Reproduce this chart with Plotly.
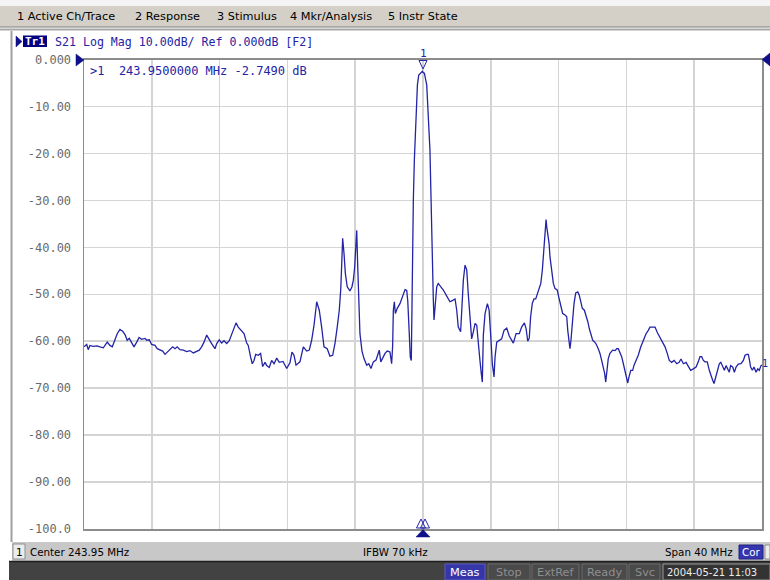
import plotly.graph_objects as go

# ---------------- data ----------------
freq_mhz = [
    223.95, 224.11, 224.20, 224.30, 224.48, 224.72, 224.89, 225.09, 225.32, 225.48,
    225.62, 225.78, 225.91, 226.07, 226.23, 226.37, 226.50, 226.62, 226.76, 226.90,
    227.06, 227.20, 227.35, 227.55, 227.65, 227.80, 227.94, 228.14, 228.27, 228.43,
    228.59, 228.73, 228.86, 229.02, 229.18, 229.32, 229.45, 229.61, 229.81, 230.01,
    230.20, 230.40, 230.60, 230.75, 230.89, 231.03, 231.19, 231.34, 231.48, 231.68,
    231.78, 231.93, 232.07, 232.21, 232.37, 232.52, 232.66, 232.82, 232.92, 233.05,
    233.21, 233.39, 233.55, 233.64, 233.78, 233.88, 233.98, 234.08, 234.23, 234.37,
    234.49, 234.63, 234.73, 234.88, 235.02, 235.16, 235.32, 235.47, 235.69, 235.91,
    236.10, 236.22, 236.34, 236.46, 236.69, 236.89, 237.09, 237.24, 237.38, 237.52,
    237.68, 237.83, 237.97, 238.11, 238.30, 238.46, 238.62, 238.76, 238.89, 239.01,
    239.10, 239.15, 239.21, 239.29, 239.37, 239.48, 239.64, 239.76, 239.84, 239.92,
    239.98, 240.04, 240.10, 240.16, 240.23, 240.35, 240.47, 240.63, 240.75, 240.88,
    241.02, 241.18, 241.30, 241.37, 241.46, 241.57, 241.71, 241.84, 242.00, 242.10,
    242.16, 242.20, 242.26, 242.32, 242.43, 242.59, 242.75, 242.89, 242.99, 243.05,
    243.14, 243.20, 243.26, 243.30, 243.34, 243.38, 243.44, 243.52, 243.62, 243.70,
    243.83, 243.91, 243.95, 244.03, 244.17, 244.26, 244.32, 244.36, 244.40, 244.45,
    244.50, 244.56, 244.60, 244.66, 244.76, 244.85, 244.99, 245.15, 245.35, 245.54,
    245.70, 245.84, 245.94, 246.03, 246.17, 246.23, 246.33, 246.43, 246.53, 246.62,
    246.72, 246.82, 246.92, 247.02, 247.12, 247.21, 247.31, 247.39, 247.45, 247.51,
    247.61, 247.75, 247.85, 247.95, 248.04, 248.14, 248.20, 248.30, 248.45, 248.59,
    248.73, 248.89, 249.04, 249.28, 249.44, 249.63, 249.77, 249.93, 250.03, 250.13,
    250.22, 250.30, 250.40, 250.50, 250.60, 250.69, 250.80, 250.90, 250.99, 251.05,
    251.11, 251.17, 251.21, 251.25, 251.31, 251.39, 251.44, 251.52, 251.64, 251.74,
    251.87, 251.96, 252.08, 252.19, 252.33, 252.43, 252.49, 252.57, 252.62, 252.68,
    252.76, 252.86, 252.96, 253.08, 253.17, 253.25, 253.35, 253.47, 253.57, 253.67,
    253.76, 253.86, 253.96, 254.05, 254.15, 254.29, 254.39, 254.49, 254.59, 254.67,
    254.73, 254.79, 254.88, 254.98, 255.14, 255.28, 255.38, 255.47, 255.57, 255.67,
    255.77, 255.87, 255.97, 256.03, 256.11, 256.21, 256.32, 256.40, 256.52, 256.65,
    256.80, 256.95, 257.11, 257.24, 257.34, 257.50, 257.64, 257.78, 257.93, 258.09,
    258.23, 258.36, 258.48, 258.62, 258.76, 258.92, 259.06, 259.17, 259.31, 259.47,
    259.60, 259.74, 259.90, 260.06, 260.19, 260.29, 260.39, 260.49, 260.59, 260.72,
    260.84, 260.94, 261.04, 261.12, 261.20, 261.31, 261.43, 261.52, 261.63, 261.73,
    261.83, 261.93, 262.02, 262.10, 262.22, 262.32, 262.42, 262.55, 262.71, 262.85,
    262.95, 263.05, 263.14, 263.20, 263.28, 263.38, 263.48, 263.60, 263.70, 263.79,
    263.89, 263.95,
]
s21_db = [
    -61.2, -60.7, -61.8, -60.9, -61.1, -61.0, -61.2, -61.4, -60.2, -60.9,
    -61.2, -59.5, -58.4, -57.5, -57.9, -58.6, -59.8, -59.4, -60.2, -61.2,
    -60.2, -59.2, -59.6, -59.4, -59.8, -59.7, -60.7, -60.9, -61.6, -61.9,
    -62.1, -62.8, -62.3, -61.6, -61.2, -61.6, -61.2, -61.8, -61.9, -62.2,
    -62.0, -62.5, -62.2, -61.9, -61.2, -60.2, -58.7, -59.8, -60.5, -61.6,
    -60.5, -59.7, -60.4, -59.9, -60.5, -59.9, -58.4, -57.0, -56.1, -57.0,
    -57.7, -58.4, -60.4, -60.9, -63.4, -64.8, -64.1, -62.8, -63.0, -62.6,
    -65.4, -64.5, -65.2, -65.6, -64.1, -64.8, -63.6, -64.5, -64.3, -65.8,
    -64.6, -62.3, -63.0, -65.1, -64.4, -61.2, -62.1, -61.9, -59.8, -56.6,
    -51.6, -53.4, -57.0, -61.2, -61.6, -63.2, -63.0, -60.4, -57.0, -53.4,
    -48.8, -44.2, -38.1, -41.3, -45.6, -48.4, -49.3, -48.4, -47.0, -44.2,
    -38.1, -36.4, -44.2, -53.4, -58.4, -62.1, -63.7, -65.1, -64.8, -65.8,
    -64.4, -64.0, -62.3, -61.9, -64.4, -63.7, -62.6, -62.1, -62.3, -64.8,
    -60.9, -53.4, -51.6, -54.1, -53.0, -52.0, -50.6, -49.0, -49.2, -51.4,
    -58.4, -63.4, -64.1, -51.4, -41.3, -30.0, -21.4, -14.0, -5.4, -3.3,
    -2.7, -2.5, -2.749, -2.9, -5.4, -10.8, -15.5, -19.3, -25.7, -35.0,
    -45.0, -51.3, -55.5, -52.7, -48.4, -47.7, -48.3, -49.1, -50.4, -51.6,
    -51.3, -51.0, -53.4, -57.0, -58.0, -54.1, -47.0, -43.8, -44.8, -49.9,
    -54.1, -59.5, -58.0, -56.2, -56.6, -59.5, -64.1, -66.9, -68.7, -58.7,
    -54.1, -52.0, -53.4, -59.1, -64.8, -67.6, -63.4, -60.2, -59.8, -59.5,
    -57.7, -57.2, -58.9, -60.4, -58.4, -58.4, -57.0, -56.1, -57.3, -60.0,
    -59.3, -54.8, -51.9, -51.0, -51.0, -49.9, -48.4, -47.7, -44.9, -42.0,
    -38.5, -36.4, -34.1, -35.6, -37.0, -39.2, -42.0, -44.9, -47.7, -48.8,
    -49.1, -50.6, -52.7, -54.1, -54.4, -54.8, -57.7, -60.5, -61.6, -59.8,
    -56.2, -52.0, -49.7, -49.5, -50.2, -51.6, -53.0, -53.4, -54.4, -55.8,
    -57.3, -58.7, -59.8, -60.1, -60.5, -61.6, -62.6, -64.1, -65.5, -66.9,
    -68.7, -66.9, -63.7, -62.6, -61.9, -62.0, -61.6, -61.6, -62.6, -63.3,
    -64.8, -66.2, -68.0, -68.9, -67.5, -66.2, -66.2, -65.1, -64.1, -63.0,
    -61.2, -59.8, -58.4, -57.7, -57.0, -57.0, -57.0, -58.2, -59.1, -60.2,
    -61.2, -62.6, -64.1, -64.5, -64.1, -64.8, -64.5, -63.8, -64.8, -64.5,
    -65.5, -66.2, -65.9, -65.5, -64.4, -63.3, -63.3, -64.1, -64.4, -64.4,
    -66.2, -67.5, -68.3, -69.0, -68.0, -66.6, -64.8, -64.5, -65.5, -66.2,
    -65.2, -65.9, -66.6, -65.2, -65.5, -66.6, -65.5, -64.9, -64.8, -64.1,
    -63.0, -62.8, -62.8, -63.8, -65.5, -66.2, -65.5, -66.6, -65.9, -66.2,
    -65.2, -65.1,
]

x_start_mhz = 223.95
x_stop_mhz = 263.95
x_div_mhz = 4.0
y_tick_vals = [0, -10, -20, -30, -40, -50, -60, -70, -80, -90, -100]
y_tick_text = ["0.000", "-10.00", "-20.00", "-30.00", "-40.00", "-50.00",
               "-60.00", "-70.00", "-80.00", "-90.00", "-100.0"]

menu_items = ["1 Active Ch/Trace", "2 Response", "3 Stimulus", "4 Mkr/Analysis", "5 Instr State"]
title_text = "S21 Log Mag 10.00dB/ Ref 0.000dB [F2]"
marker_text = ">1  243.9500000 MHz -2.7490 dB"
status_center = "Center 243.95 MHz"
status_ifbw = "IFBW 70 kHz"
status_span = "Span 40 MHz"
bottom_items = ["Meas", "Stop", "ExtRef", "Ready", "Svc"]
date_text = "2004-05-21 11:03"

# ---------------- layout helpers ----------------
W, H = 770, 580


def px(x):
    return x / W


def py(y):
    return 1 - y / H


shapes = []
annotations = []


def rect(x0, y0, x1, y1, fill, line=None, lw=0):
    shapes.append(dict(type="rect", xref="paper", yref="paper",
                       x0=px(x0), x1=px(x1), y0=py(y1), y1=py(y0),
                       fillcolor=fill,
                       line=dict(color=line or fill, width=lw)))


def hline(x0, x1, y, color, w=1):
    shapes.append(dict(type="line", xref="paper", yref="paper",
                       x0=px(x0), x1=px(x1), y0=py(y), y1=py(y),
                       line=dict(color=color, width=w)))


def vline(x, y0, y1, color, w=1):
    shapes.append(dict(type="line", xref="paper", yref="paper",
                       x0=px(x), x1=px(x), y0=py(y0), y1=py(y1),
                       line=dict(color=color, width=w)))


def poly(pts, fill=None, line="#14148c", lw=1):
    d = "M " + " L ".join(f"{px(a):.5f},{py(b):.5f}" for a, b in pts) + " Z"
    shapes.append(dict(type="path", xref="paper", yref="paper", path=d,
                       fillcolor=fill if fill else "rgba(0,0,0,0)",
                       line=dict(color=line, width=lw)))


def text(x, y, s, size, color, family="DejaVu Sans", anchor="left"):
    annotations.append(dict(xref="paper", yref="paper", x=px(x), y=py(y),
                            text=s, showarrow=False, xanchor=anchor, yanchor="middle",
                            borderpad=0,
                            font=dict(family=family, size=size, color=color)))


MONO = "DejaVu Sans Mono"
BLUE = "#2323a6"
NAVY = "#10108a"

# top menu bar
rect(0, 0, 770, 6, "#f4f4f4")
rect(0, 6, 770, 27, "#d4d0c8")
hline(0, 770, 27, "#808080", 1)
hline(0, 770, 29.5, "#a8a8a8", 2)
for s, x in zip(menu_items, [16, 134, 216, 289, 387]):
    text(x, 16.5, s, 11.3, "#000000")

# chart window frame
vline(11.5, 31, 542, "#a0a0a0", 2)

# trace title
poly([(16, 36), (16, 47), (22, 41.5)], fill=NAVY, line=NAVY, lw=0.5)
rect(23, 35.5, 47, 47, "#000080")
annotations.append(dict(xref="paper", yref="paper", x=px(35), y=py(41.5), text="<b>Tr1</b>",
                        showarrow=False, xanchor="center", yanchor="middle", borderpad=0,
                        font=dict(family=MONO, size=11, color="white")))
text(54, 41.5, title_text, 11.6, BLUE, MONO)

# reference level arrows
poly([(76, 54), (76, 66), (84, 60)], fill=NAVY, line=NAVY, lw=0.5)
poly([(770, 53), (770, 66), (762, 59.5)], fill=NAVY, line=NAVY, lw=0.5)

# marker readout and marker symbols
text(89, 70.5, marker_text.replace(" ", "&nbsp;"), 12, BLUE, MONO)
text(423, 53, "1", 11, BLUE, MONO, anchor="center")
poly([(419, 60.5), (427, 60.5), (423, 69)], line=BLUE, lw=1)
text(769, 363, "1", 10, BLUE, MONO, anchor="right")
poly([(416.5, 528), (421, 519), (425.5, 528)], line=BLUE, lw=1)
poly([(420.5, 528), (425, 519), (429.5, 528)], line=BLUE, lw=1)
poly([(416, 537), (430, 537), (423, 529.5)], fill=NAVY, line=NAVY, lw=0.5)

# status bar
rect(12, 542, 770, 561, "#c8c8c8")
rect(13, 544, 25, 559, "#ececec", "#909090", 1)
text(19, 552, "1", 10.5, "#000000", anchor="center")
text(29, 552, status_center, 10.3, "#000000")
text(362, 552, status_ifbw, 10.3, "#000000")
text(664, 552, status_span, 10.3, "#000000")
rect(739, 545, 763, 559, "#3535b0", "#202080", 1)
text(751, 552, "Cor", 10.3, "#ffffff", anchor="center")
rect(765, 545, 770, 559, "#ececec", "#909090", 1)

# bottom dark bar
rect(9, 561, 770, 580, "#424242")
hline(9, 770, 561.5, "#1e1e1e", 1.5)
boxes = [(445, 485), (488, 530), (532, 579), (582, 627), (629, 660)]
for (x0, x1), s in zip(boxes, bottom_items):
    if s == "Meas":
        rect(x0, 564, x1, 580, "#3636a8", "#5a5ac8", 1)
        text((x0 + x1) / 2, 572, s, 11.3, "#ffffff", anchor="center")
    else:
        rect(x0, 564, x1, 580, "#4a4a4a", "#6a6a6a", 1)
        text((x0 + x1) / 2, 572, s, 11.3, "#8e8e8e", anchor="center")
rect(663, 564, 770, 580, "#333333", "#9a9a9a", 1)
text(666, 572, date_text, 10, "#ececec")

fig = go.Figure()
fig.add_trace(go.Scatter(x=freq_mhz, y=s21_db, mode="lines",
                         line=dict(color=BLUE, width=1.3), hoverinfo="skip"))

fig.update_layout(
    width=W, height=H, margin=dict(l=0, r=0, t=0, b=0, pad=0, autoexpand=False),
    paper_bgcolor="white", plot_bgcolor="white", showlegend=False,
    xaxis=dict(domain=[px(84), px(762)], range=[x_start_mhz, x_stop_mhz],
               tick0=x_start_mhz, dtick=x_div_mhz, showticklabels=False, ticks="",
               showgrid=True, gridcolor="#d4d4d4", gridwidth=1.5, zeroline=False,
               showline=True, mirror=True, linecolor="#8c8c8c", linewidth=1.5,
               automargin=False, fixedrange=True),
    yaxis=dict(domain=[py(529), py(59.5)], range=[-100, 0],
               tickvals=y_tick_vals, ticktext=y_tick_text,
               ticks="outside", ticklen=9, tickcolor="rgba(0,0,0,0)",
               tickfont=dict(family=MONO, size=12, color="#6a6a6a"),
               showgrid=True, gridcolor="#d4d4d4", gridwidth=1.5, zeroline=False,
               showline=True, mirror=True, linecolor="#8c8c8c", linewidth=1.5,
               automargin=False, fixedrange=True),
    shapes=shapes, annotations=annotations,
)

fig.write_html("out.html", config={"displayModeBar": False, "staticPlot": True},
               post_script="document.body.style.margin='0';document.body.style.padding='0';")
